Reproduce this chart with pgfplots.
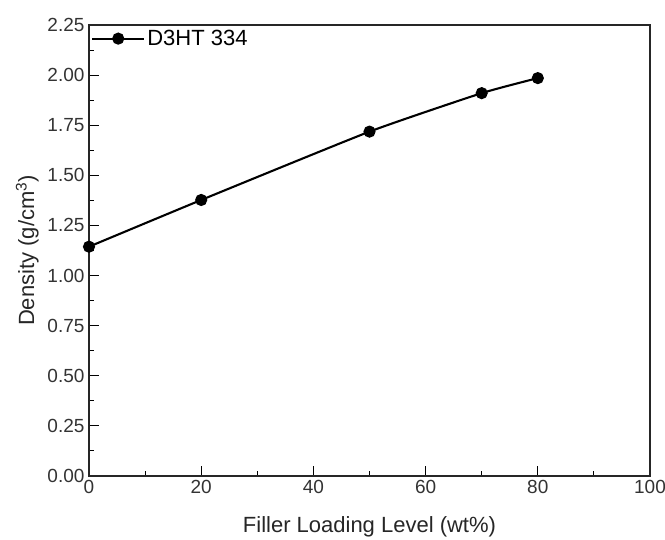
\documentclass[border=0pt]{standalone}
\usepackage{fontspec}
\setmainfont{Liberation Sans}
\usepackage{pgfplots}
\pgfplotsset{compat=1.18}
\begin{document}
\begin{tikzpicture}
\path[use as bounding box] (-89bp,-64bp) rectangle (576bp,476bp);
\begin{axis}[
  at={(0,0)}, anchor=south west,
  scale only axis,
  width=561bp, height=451bp,
  xmin=0, xmax=100, ymin=0, ymax=2.25,
  xtick={0,20,40,60,80,100},
  ytick={0,0.25,0.5,0.75,1,1.25,1.5,1.75,2,2.25},
  minor tick num=1,
  tick align=inside,
  xtick pos=left, ytick pos=left,
  major tick length=10bp, minor tick length=5bp,
  every tick/.style={black, line width=1.1pt},
  axis line style={line width=1.3pt, black!85},
  /pgf/number format/assume math mode=true,
  yticklabel style={/pgf/number format/fixed, /pgf/number format/fixed zerofill, /pgf/number format/precision=2, xshift=-1bp},
  ticklabel style={font=\fontsize{19bp}{22bp}\selectfont, text=black!80},
  xticklabel style={yshift=-1bp},
  xlabel={Filler Loading Level (wt\%)},
  ylabel={Density (g/cm\textsuperscript{3})},
  label style={font=\fontsize{22bp}{26bp}\selectfont, text=black!85},
  xlabel style={at={(axis description cs:0.5,-0.113)}, anchor=center},
  ylabel style={at={(axis description cs:-0.11,0.5)}, anchor=center},
  legend style={at={(axis description cs:0,1)}, anchor=north west, draw=none, fill=none,
    font=\fontsize{22bp}{26bp}\selectfont, inner xsep=2bp, inner ysep=3bp},
  legend cell align=left,
  legend image code/.code={
    \draw[#1, mark repeat=2, mark phase=2] plot coordinates {(0bp,0bp) (26bp,0bp) (52bp,0bp)};
  },
]
\addplot[black, line width=2.1pt, smooth, tension=0.3, mark=*, mark size=5bp,
  mark options={solid, fill=black}]
  coordinates {(0,1.144) (20,1.377) (50,1.718) (70,1.910) (80,1.985)};
\addlegendentry{D3HT 334}
\end{axis}
\end{tikzpicture}
\end{document}
